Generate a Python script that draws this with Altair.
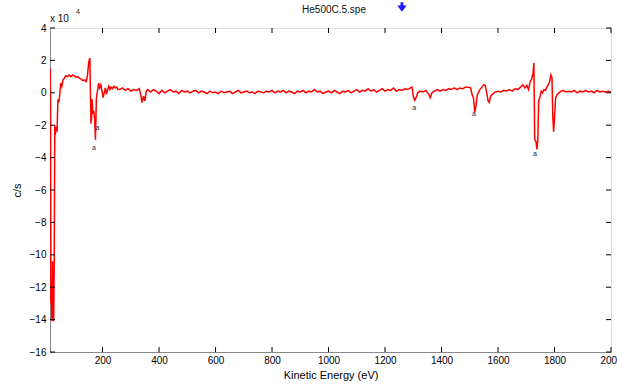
import altair as alt
import pandas as pd

# ---- data (counts in units of 1e4 c/s) ----
seg_low = [(15, 1.5), (16, -0.6), (17, -12.9), (19, -13.0), (21, -14.1), (23, -10.4),
           (25, -12.9), (27, -14.1), (29, -10.4), (31, -2.0), (33, -2.6), (36, -2.1),
           (39, -2.4), (42, -0.4), (45, -0.6), (48, -0.2), (52, 0.6), (56, 0.4),
           (60, 0.8), (65, 0.9), (70, 1.05), (76, 1.0), (82, 1.1), (88, 1.0),
           (94, 1.1), (100, 1.05), (106, 0.95), (112, 1.0), (118, 0.9), (124, 0.85),
           (130, 0.75), (136, 0.8), (142, 0.7), (147, 1.1), (151, 1.9), (155, 2.15),
           (159, -1.9), (161, -1.6), (163, -0.4), (166, -1.3), (169, -1.1), (172, -1.6),
           (175, -2.9), (178, -0.4), (180, -0.1), (183, 0.2), (186, 0.6), (190, 0.3),
           (194, 0.5), (198, 0.1), (202, -0.3), (206, 0.0), (210, 0.3), (214, -0.1),
           (218, 0.2), (222, 0.4), (226, 0.2), (230, 0.35), (235, 0.25), (240, 0.4),
           (245, 0.3), (250, 0.35), (255, 0.2)]

seg_mid = [(260, 0.2), (270, 0.3), (280, 0.15), (290, 0.25), (300, 0.1), (310, 0.2),
           (320, 0.15), (330, 0.25), (335, -0.1), (340, -0.6), (345, -0.2), (350, -0.5),
           (355, 0.1), (360, 0.2), (370, 0.05), (380, 0.2), (390, 0.1), (400, -0.05),
           (410, 0.15), (420, 0.0), (430, 0.1), (440, 0.2), (450, 0.05), (460, 0.1),
           (470, -0.05), (480, 0.15), (490, 0.05), (500, 0.1), (510, 0.0), (520, 0.1),
           (530, 0.15), (540, 0.0), (550, 0.1), (560, 0.05), (570, -0.05), (580, 0.1),
           (590, 0.0), (600, 0.05), (610, -0.05), (620, 0.1), (630, 0.0), (640, 0.05),
           (650, 0.1), (660, -0.05), (670, 0.05), (680, 0.15), (690, 0.0), (700, 0.05),
           (710, 0.1), (720, 0.0), (730, 0.05), (740, -0.05), (750, 0.1), (760, 0.05),
           (770, 0.0), (780, 0.1), (790, 0.05), (800, 0.15), (810, 0.0), (820, 0.1),
           (830, 0.05), (840, 0.15), (850, 0.0), (860, 0.1), (870, 0.05), (880, -0.05),
           (890, 0.1), (900, 0.05), (910, 0.15), (920, 0.0), (930, 0.1), (940, 0.05),
           (950, 0.2), (960, 0.05), (970, 0.1), (980, -0.05), (990, 0.05), (1000, 0.1),
           (1010, 0.0), (1020, 0.15), (1030, 0.05), (1040, -0.05), (1050, 0.1), (1060, 0.05),
           (1070, 0.15), (1080, 0.0), (1090, 0.1), (1100, 0.2), (1110, 0.05), (1120, 0.15),
           (1130, 0.1), (1140, 0.25), (1150, 0.1), (1160, 0.2), (1170, 0.05), (1180, 0.15),
           (1190, 0.25), (1200, 0.1), (1210, 0.2), (1220, 0.15), (1230, 0.3), (1240, 0.1),
           (1250, 0.2), (1260, 0.15), (1270, 0.25), (1280, 0.2), (1290, 0.3)]

seg_high = [(1296, 0.35), (1300, -0.2), (1305, -0.45), (1310, -0.3), (1316, 0.0), (1324, 0.1),
            (1335, 0.05), (1345, 0.15), (1355, -0.1), (1360, -0.3), (1366, 0.0), (1375, 0.1),
            (1385, 0.2), (1395, 0.1), (1405, 0.2), (1415, 0.15), (1425, 0.25), (1435, 0.2),
            (1445, 0.3), (1455, 0.2), (1465, 0.3), (1475, 0.25), (1485, 0.35), (1495, 0.35),
            (1503, 0.3), (1508, -0.1), (1513, -0.3), (1518, -1.2), (1522, -0.8), (1526, -0.2),
            (1530, 0.0), (1536, 0.2), (1543, 0.35), (1550, 0.5), (1555, 0.45), (1560, 0.0),
            (1565, -0.5), (1569, -0.6), (1574, -0.2), (1580, -0.1), (1590, 0.05), (1600, 0.1),
            (1610, 0.05), (1620, 0.15), (1630, 0.1), (1640, 0.2), (1650, 0.1), (1660, 0.25),
            (1670, 0.2), (1680, 0.35), (1688, 0.5), (1695, 0.3), (1702, 0.45), (1708, 0.2),
            (1714, 0.7), (1719, 0.85), (1724, 1.2), (1727, 1.85), (1730, -2.9), (1734, -3.0),
            (1738, -3.5), (1741, -2.9), (1744, -0.5), (1748, -0.3), (1753, 0.1), (1758, 0.0),
            (1763, 0.2), (1768, 0.15), (1773, 0.35), (1778, 0.5), (1783, 0.7), (1787, 1.1),
            (1791, 0.95), (1794, -1.5), (1797, -2.4), (1800, -1.6), (1804, -0.3), (1810, -0.1),
            (1816, 0.0), (1823, 0.1), (1830, 0.15), (1840, 0.05), (1850, 0.1), (1860, 0.05),
            (1870, 0.15), (1880, 0.0), (1890, 0.1), (1900, 0.05), (1910, 0.15), (1920, 0.05),
            (1930, 0.1), (1940, 0.0), (1950, 0.15), (1960, 0.05), (1970, 0.1), (1980, 0.05),
            (1990, 0.1), (2000, 0.05)]

peak_label_energy = [170, 182, 1303, 1515, 1731]
peak_label_counts = [-3.4, -2.15, -0.95, -1.3, -3.8]
peak_label_text = ["a", "a", "a", "a", "a"]

x_ticks = [200, 400, 600, 800, 1000, 1200, 1400, 1600, 1800, 2000]
y_ticks = [4, 2, 0, -2, -4, -6, -8, -10, -12, -14, -16]
marker_energy = [1260]

title_text = "He500C.5.spe"
x_title = "Kinetic Energy (eV)"
y_title = "c/s"

# ---- build tables ----
pts = seg_low + seg_mid + seg_high
df = pd.DataFrame({"energy": [p[0] for p in pts], "counts": [p[1] for p in pts],
                   "order": list(range(len(pts)))})
labels_df = pd.DataFrame({"energy": peak_label_energy, "counts": peak_label_counts,
                          "t": peak_label_text})
xt = pd.DataFrame({"energy": x_ticks})
yt = pd.DataFrame({"counts": y_ticks})
mk = pd.DataFrame({"energy": marker_energy})

W, H = 561, 324
FONT = "Liberation Sans"
FS = 10

xs = alt.Scale(domain=[14, 2000], nice=False, zero=False)
ys = alt.Scale(domain=[-16, 4], nice=False, zero=False)
x_axis = alt.Axis(values=x_ticks, title=x_title, ticks=False, labelPadding=3,
                  titlePadding=4, grid=False, format="d", labelFlush=False,
                  labelOverlap=False, titleFontWeight="normal")
y_axis = alt.Axis(values=y_ticks, title=y_title, ticks=False, labelPadding=4,
                  titlePadding=7, grid=False, format="d", labelFlush=False,
                  labelOverlap=False, titleFontWeight="normal")
X = alt.X("energy:Q", scale=xs, axis=x_axis)
Y = alt.Y("counts:Q", scale=ys, axis=y_axis)

line = alt.Chart(df).mark_line(color="#ff0000", strokeWidth=1.5, clip=True).encode(
    x=X, y=Y, order="order:Q")

lbl = alt.Chart(labels_df).mark_text(fontSize=7, color="#222244", font=FONT,
                                     baseline="middle").encode(x=X, y=Y, text="t:N")

tick_bottom = alt.Chart(xt).mark_rule(color="black").encode(
    x=X, y=alt.value(H), y2=alt.value(H - 5))
tick_top = alt.Chart(xt).mark_rule(color="black").encode(
    x=X, y=alt.value(0), y2=alt.value(5))
tick_left = alt.Chart(yt).mark_rule(color="black").encode(
    y=Y, x=alt.value(0), x2=alt.value(5))
tick_right = alt.Chart(yt).mark_rule(color="black").encode(
    y=Y, x=alt.value(W), x2=alt.value(W - 5))

title = alt.Chart(pd.DataFrame({"t": [title_text]})).mark_text(
    fontSize=FS, font=FONT, color="#111", baseline="middle").encode(
    text="t:N", x=alt.value(284), y=alt.value(-18))
mult = alt.Chart(pd.DataFrame({"t": ["x 10"]})).mark_text(
    fontSize=FS, font=FONT, color="#111", align="left", baseline="middle").encode(
    text="t:N", x=alt.value(0), y=alt.value(-9))
expo = alt.Chart(pd.DataFrame({"t": ["4"]})).mark_text(
    fontSize=7, font=FONT, color="#111", align="left", baseline="middle").encode(
    text="t:N", x=alt.value(26), y=alt.value(-16))

arrow = alt.Chart(mk).mark_point(
    shape="M-0.3,-1L0.3,-1L0.3,-0.3L1,-0.3L0,1L-1,-0.3L-0.3,-0.3Z",
    filled=True, color="#1a1aff", size=90, opacity=1).encode(
    x=X, y=alt.value(-21))

chart = alt.layer(line, lbl, tick_bottom, tick_top, tick_left, tick_right,
                  title, mult, expo, arrow).properties(
    width=W, height=H,
    autosize=alt.AutoSizeParams(type="none"),
    padding={"left": 50, "top": 28, "right": 6, "bottom": 32},
).configure_view(stroke="black", strokeWidth=1).configure_axis(
    domainColor="black", domainWidth=1, labelFont=FONT, titleFont=FONT,
    labelFontSize=FS, titleFontSize=FS, labelColor="#111", titleColor="#111",
    titleFontWeight="normal",
).configure(background="white")

chart.save("out.html", embed_options={"renderer": "svg", "actions": False})
